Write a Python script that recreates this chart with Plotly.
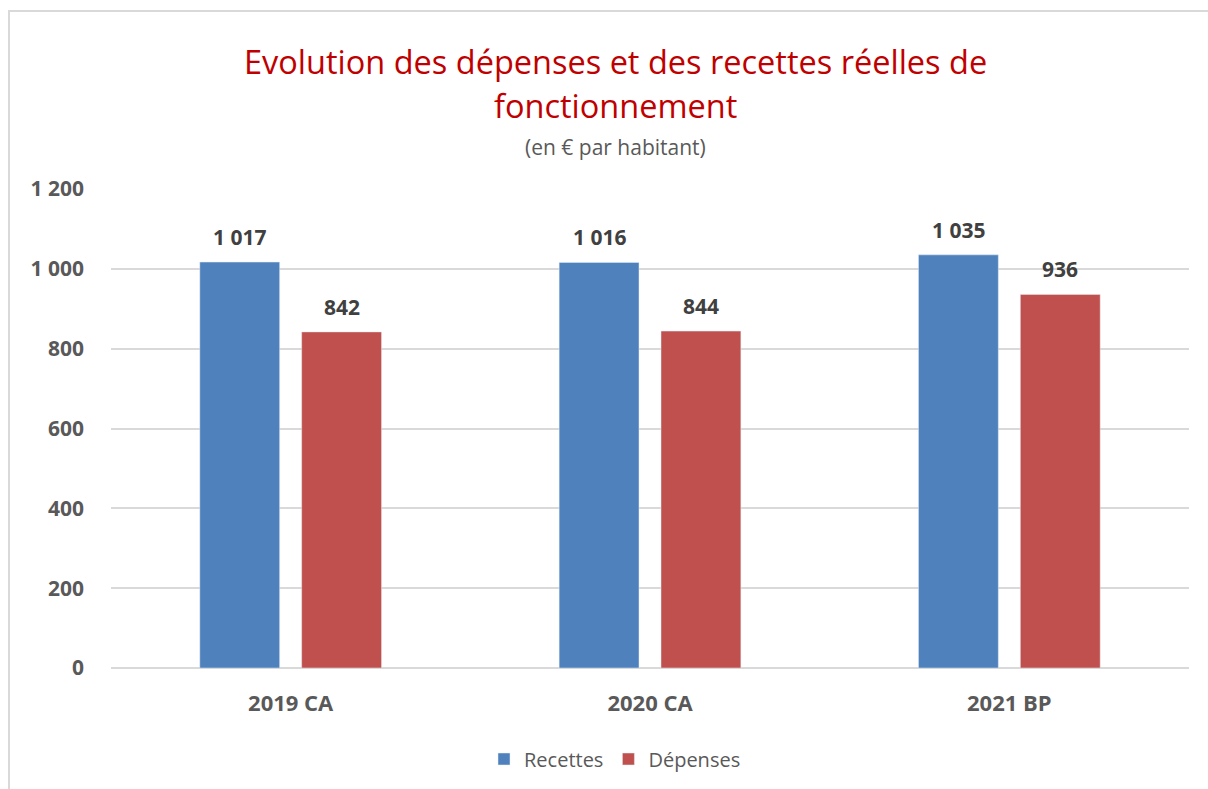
import plotly.graph_objects as go

categories = ["2019 CA", "2020 CA", "2021 BP"]
recettes = [1017, 1016, 1035]
depenses = [842, 844, 936]
y_ticks = [0, 200, 400, 600, 800, 1000, 1200]

BLUE = "#4F81BD"
RED = "#C0504D"
FONT = "Open Sans"

W, H = 1208, 789
L, R, T, B = 111, 19, 189, 121
pw, ph = W - L - R, H - T - B

def px(x):
    return (x - L) / pw

def py(y):
    return (H - B - y) / ph

fig = go.Figure()
fig.add_trace(go.Bar(name="Recettes", x=categories, y=recettes, marker_color=BLUE))
fig.add_trace(go.Bar(name="Dépenses", x=categories, y=depenses, marker_color=RED))

def fmt(v):
    return f"{v:,}".replace(",", " ")

annotations = []
for series, shift in ((recettes, -51), (depenses, 51)):
    for c, v in zip(categories, series):
        annotations.append(dict(x=c, y=v, xref="x", yref="y", text=fmt(v),
                                showarrow=False, xshift=shift, yshift=25,
                                xanchor="center", yanchor="middle",
                                font=dict(family=FONT, size=21, color="#404040", weight="bold")))

annotations += [
    dict(x=px(615), y=py(62), xref="paper", yref="paper", showarrow=False,
         xanchor="center", yanchor="middle",
         text="Evolution des dépenses et des recettes réelles de",
         font=dict(family=FONT, size=32.5, color="#C00000")),
    dict(x=px(615), y=py(105), xref="paper", yref="paper", showarrow=False,
         xanchor="center", yanchor="middle",
         text="fonctionnement", font=dict(family=FONT, size=32.5, color="#C00000")),
    dict(x=px(615), y=py(147), xref="paper", yref="paper", showarrow=False,
         xanchor="center", yanchor="middle",
         text="(en € par habitant)", font=dict(family=FONT, size=21, color="#595959")),
]

fig.update_layout(
    width=W, height=H,
    margin=dict(l=L, r=R, t=T, b=B, autoexpand=False),
    paper_bgcolor="white", plot_bgcolor="white",
    barmode="group", bargap=0.433, bargroupgap=0.216,
    separators=", ",
    font=dict(family=FONT, color="#595959"),
    showlegend=True,
    legend=dict(orientation="h", x=px(615), xanchor="center", y=py(759), yanchor="middle",
                font=dict(family=FONT, size=20, color="#595959"), traceorder="normal",
                itemwidth=30),
    annotations=annotations,
    shapes=[dict(type="rect", xref="paper", yref="paper",
                 x0=px(9), x1=px(1240), y0=py(11), y1=py(830),
                 line=dict(color="#D9D9D9", width=2), layer="below")],
)
fig.update_xaxes(showline=False, ticks="", showgrid=False, ticklabelstandoff=20,
                 tickfont=dict(family=FONT, size=22, color="#595959", weight="bold"))
fig.update_yaxes(range=[0, 1200], tickvals=y_ticks, tickformat=",d",
                 showgrid=True, gridcolor="#D9D9D9", gridwidth=1.5, zeroline=True,
                 zerolinecolor="#D9D9D9", zerolinewidth=1.5, showline=False, ticks="",
                 ticklabelstandoff=26,
                 tickfont=dict(family=FONT, size=21, color="#595959", weight="bold"))

fig.write_html("out.html", config={"displayModeBar": False},
               post_script="document.body.style.margin='0';document.body.style.overflow='hidden';")
